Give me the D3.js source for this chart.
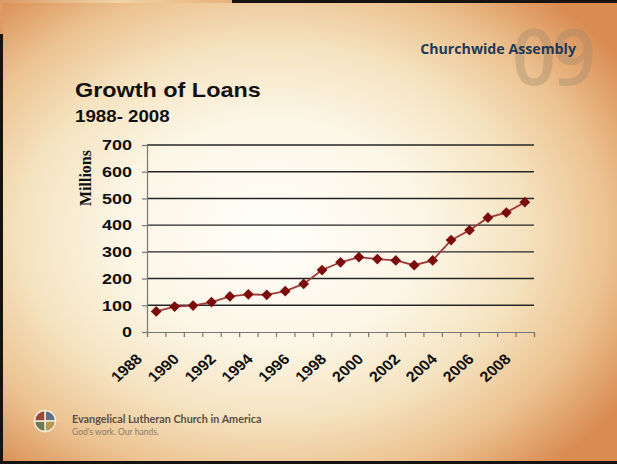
<!DOCTYPE html>
<html>
<head>
<meta charset="utf-8">
<script src="https://cdn.jsdelivr.net/npm/d3@7"></script>
<style>
  html, body { margin: 0; padding: 0; background: #1a1a1a; }
  svg { display: block; }
</style>
</head>
<body>
<svg id="chart" width="617" height="464"></svg>
<script>
// ---- data ----
const years = [1988, 1989, 1990, 1991, 1992, 1993, 1994, 1995, 1996, 1997, 1998,
               1999, 2000, 2001, 2002, 2003, 2004, 2005, 2006, 2007, 2008];
const loans = [77, 95, 99, 112, 133, 141, 139, 153, 180, 232, 261,
               280, 273, 268, 250, 268, 344, 381, 428, 447, 486];
const yTicks = [0, 100, 200, 300, 400, 500, 600, 700];
const xLabels = [1988, 1990, 1992, 1994, 1996, 1998, 2000, 2002, 2004, 2006, 2008];
const title = "Growth of Loans";
const subtitle = "1988- 2008";
const yTitle = "Millions";

const svg = d3.select("#chart");
const defs = svg.append("defs");

// background parchment
const rg = defs.append("radialGradient").attr("id", "parch")
  .attr("cx", "0.44").attr("cy", "0.5").attr("r", "0.68");
[[0, "#fffefa"], [0.36, "#fcf6e6"], [0.6, "#f5e3c0"], [0.8, "#ecc290"], [1, "#d98c52"]]
  .forEach(([o, c]) => rg.append("stop").attr("offset", o).attr("stop-color", c));
const lg = defs.append("linearGradient").attr("id", "peek").attr("x1", 0).attr("x2", 1);
[[0, "#dc9a66"], [0.5, "#efd3a6"], [1, "#e6b27c"]]
  .forEach(([o, c]) => lg.append("stop").attr("offset", o).attr("stop-color", c));

svg.append("rect").attr("x", 0).attr("y", 0).attr("width", 617).attr("height", 464).attr("fill", "#161310");
svg.append("rect").attr("x", 0).attr("y", 0).attr("width", 232).attr("height", 34).attr("fill", "url(#peek)");
svg.append("rect").attr("x", 3).attr("y", 3).attr("width", 614).attr("height", 458).attr("fill", "url(#parch)");

// header decoration
svg.append("text").attr("x", 512).attr("y", 85)
  .attr("font-family", "'Open Sans', sans-serif").attr("font-size", 77).attr("font-weight", 600)
  .attr("fill", "#a08a6c").attr("fill-opacity", 0.38).attr("letter-spacing", -4).text("09");
svg.append("text").attr("x", 576).attr("y", 54).attr("text-anchor", "end")
  .attr("font-family", "'Open Sans', sans-serif").attr("font-size", 14.2).attr("font-weight", 700)
  .attr("fill", "#1d3a58").text("Churchwide Assembly");

// titles (slide appears horizontally stretched ~1.2)
svg.append("text").attr("transform", "translate(75,97) scale(1.2,1)")
  .attr("font-family", "'Liberation Sans', Arial, sans-serif").attr("font-size", 19.5).attr("font-weight", 700)
  .attr("fill", "#111").text(title);
svg.append("text").attr("transform", "translate(75,121.5) scale(1.17,1)")
  .attr("font-family", "'Liberation Sans', Arial, sans-serif").attr("font-size", 16).attr("font-weight", 700)
  .attr("fill", "#111").text(subtitle);

// ---- chart ----
const x0 = 147, x1 = 534, yTop = 145, yBot = 332;
const x = d3.scaleLinear().domain([0, years.length]).range([x0, x1]);
const y = d3.scaleLinear().domain([0, 700]).range([yBot, yTop]);
const xc = i => x(i + 0.5);

// gridlines
svg.append("g").selectAll("line").data(yTicks.filter(v => v > 0)).join("line")
  .attr("x1", x0).attr("x2", x1).attr("y1", d => y(d)).attr("y2", d => y(d))
  .attr("stroke", "#262626").attr("stroke-width", 1.4);

// y axis
const yAxis = svg.append("g").attr("transform", `translate(${x0},0)`)
  .call(d3.axisLeft(y).tickValues(yTicks).tickSize(5).tickFormat(""));
yAxis.select(".domain").attr("stroke", "#777").attr("stroke-width", 1.2);
yAxis.selectAll(".tick line").attr("stroke", "#777").attr("stroke-width", 1.2);
svg.append("g").selectAll("text").data(yTicks).join("text")
  .attr("transform", d => `translate(132,${y(d) + 5.3}) scale(1.2,1)`)
  .attr("text-anchor", "end")
  .attr("font-family", "'Liberation Sans', Arial, sans-serif").attr("font-size", 15).attr("font-weight", 700)
  .attr("fill", "#111").text(d => d);

// x axis
const xAxis = svg.append("g").attr("transform", `translate(0,${yBot})`)
  .call(d3.axisBottom(x).tickValues(d3.range(years.length + 1)).tickSize(5).tickFormat(""));
xAxis.select(".domain").attr("stroke", "#777").attr("stroke-width", 1.2);
xAxis.selectAll(".tick line").attr("stroke", "#777").attr("stroke-width", 1.2);
svg.append("g").selectAll("text").data(xLabels).join("text")
  .attr("transform", d => `translate(${xc(years.indexOf(d)) - 13},360) scale(1.12,1) rotate(-45)`)
  .attr("text-anchor", "end")
  .attr("font-family", "'Liberation Sans', Arial, sans-serif").attr("font-size", 14.5).attr("font-weight", 700)
  .attr("fill", "#111").text(d => d);

// y title
svg.append("text").attr("transform", "translate(91,178) scale(1.1,1) rotate(-90)")
  .attr("text-anchor", "middle")
  .attr("font-family", "'Liberation Serif', 'Times New Roman', serif").attr("font-size", 16).attr("font-weight", 700)
  .attr("fill", "#111").text(yTitle);

// series line
const line = d3.line().x((d, i) => xc(i)).y(d => y(d));
svg.append("path").datum(loans).attr("d", line)
  .attr("fill", "none").attr("stroke", "#a03a3a").attr("stroke-width", 1.8);
svg.append("g").selectAll("path").data(loans).join("path")
  .attr("d", d3.symbol().type(d3.symbolSquare).size(58))
  .attr("transform", (d, i) => `translate(${xc(i)},${y(d)}) rotate(45)`)
  .attr("fill", "#7c0c0c");

// footer logo
const lx = 45, ly = 421, lr = 10.5;
const quadColors = ["#5d6f84", "#b49a4a", "#6f7a52", "#9a4a3a"];
const arc = d3.arc().innerRadius(0).outerRadius(lr);
svg.append("g").attr("transform", `translate(${lx},${ly})`)
  .selectAll("path").data(d3.pie().sort(null).value(1)(quadColors)).join("path")
  .attr("d", arc)
  .attr("fill", d => d.data)
  .attr("stroke", "#f4ead8").attr("stroke-width", 1.5);
svg.append("text").attr("x", 72).attr("y", 423)
  .attr("font-family", "Lato, sans-serif").attr("font-size", 10.8).attr("font-weight", 700)
  .attr("fill", "#5b5044").text("Evangelical Lutheran Church in America");
svg.append("text").attr("x", 72).attr("y", 435)
  .attr("font-family", "Lato, sans-serif").attr("font-size", 8.5)
  .attr("fill", "#8a7a68").text("God's work. Our hands.");
</script>
</body>
</html>
